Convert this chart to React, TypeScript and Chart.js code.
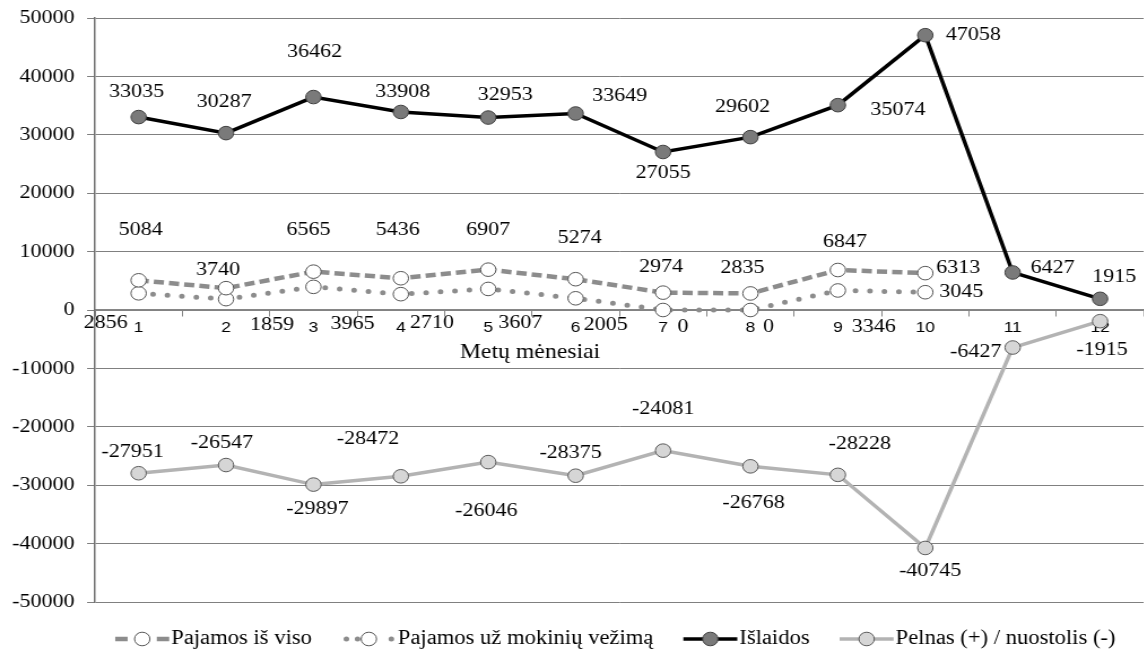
import React, { useEffect, useRef } from "react";
import { Chart, registerables } from "chart.js";

Chart.register(...registerables);

// ---------- data ----------
const months = ["1", "2", "3", "4", "5", "6", "7", "8", "9", "10", "11", "12"];
const totalIncome = [5084, 3740, 6565, 5436, 6907, 5274, 2974, 2835, 6847, 6313, null, null];
const transportIncome = [2856, 1859, 3965, 2710, 3607, 2005, 0, 0, 3346, 3045, null, null];
const expenses = [33035, 30287, 36462, 33908, 32953, 33649, 27055, 29602, 35074, 47058, 6427, 1915];
const profit = [-27951, -26547, -29897, -28472, -26046, -28375, -24081, -26768, -28228, -40745, -6427, -1915];
const yTicks = [-50000, -40000, -30000, -20000, -10000, 0, 10000, 20000, 30000, 40000, 50000];
const seriesNames = [
  "Pajamos iš viso",
  "Pajamos už mokinių vežimą",
  "Išlaidos",
  "Pelnas (+) / nuostolis (-)",
];
const xTitle = "Metų mėnesiai";

// ---------- layout / style ----------
const S = 1.13; // horizontal stretch of the whole picture
const W = 1020;
const H = 658;
const SERIF = "'Liberation Serif', 'Times New Roman', serif";
const SANS = "'Liberation Sans', Arial, sans-serif";
const LABEL_FONT = `19.5px ${SERIF}`;
const TITLE_FONT = `21px ${SERIF}`;
const LEGEND_FONT = `20px ${SERIF}`;

// label offsets (screen px) relative to each point, per dataset
const LABEL_OFFSETS: number[][][] = [
  [[2, -50], [-8, -18], [-5, -42], [-3, -48], [0, -40], [4, -41], [-2, -26], [-8, -26], [7, -28], [33, -5], [0, 0], [0, 0]],
  [[-33, 30], [46, 26], [39, 37], [31, 29], [32, 34], [30, 27], [20, 17], [18, 17], [36, 36], [36, 0], [0, 0], [0, 0]],
  [[-2, -25], [-2, -31], [1, -45], [2, -20], [17, -23], [44, -18], [0, 21], [-8, -30], [60, 5], [48, 0], [40, -5], [14, -22]],
  [[-6, -21], [-4, -22], [4, 24], [-33, -37], [-2, 49], [-5, -23], [0, -42], [3, 37], [22, -31], [5, 23], [-37, 4], [2, 29]],
];

const styles = [
  { line: "#8c8c8c", width: 4.5, dash: [9, 4.5], cap: "butt", fill: "#ffffff", border: "#555555" },
  { line: "#8c8c8c", width: 5, dash: [0, 12.8], cap: "round", fill: "#ffffff", border: "#555555" },
  { line: "#000000", width: 3.5, dash: [] as number[], cap: "butt", fill: "#7a7a7a", border: "#404040" },
  { line: "#b3b3b3", width: 3.5, dash: [] as number[], cap: "butt", fill: "#d6d6d6", border: "#5a5a5a" },
];
const POINT_R = 6.8;

const seriesData = [totalIncome, transportIncome, expenses, profit];

function drawLegendSymbol(ctx: CanvasRenderingContext2D, idx: number, x0: number, w: number, y: number) {
  const st = styles[idx];
  ctx.save();
  ctx.strokeStyle = st.line;
  ctx.fillStyle = st.line;
  ctx.lineWidth = st.width;
  if (idx === 0) {
    ctx.beginPath();
    ctx.moveTo(x0, y);
    ctx.lineTo(x0 + 11, y);
    ctx.moveTo(x0 + w - 11, y);
    ctx.lineTo(x0 + w, y);
    ctx.stroke();
  } else if (idx === 1) {
    [x0 + 4, x0 + w / 2 - 10, x0 + w - 4].forEach((cx) => {
      ctx.beginPath();
      ctx.arc(cx, y, st.width / 2, 0, Math.PI * 2);
      ctx.fill();
    });
  } else {
    ctx.beginPath();
    ctx.moveTo(x0, y);
    ctx.lineTo(x0 + w, y);
    ctx.stroke();
  }
  ctx.beginPath();
  ctx.arc(x0 + w / 2, y, POINT_R, 0, Math.PI * 2);
  ctx.fillStyle = st.fill;
  ctx.fill();
  ctx.lineWidth = 1;
  ctx.strokeStyle = st.border;
  ctx.stroke();
  ctx.restore();
}

const textPlugin = {
  id: "customText",
  afterDatasetsDraw(chart: any) {
    const ctx: CanvasRenderingContext2D = chart.ctx;
    ctx.save();
    ctx.font = LABEL_FONT;
    ctx.fillStyle = "#000";
    ctx.textAlign = "center";
    ctx.textBaseline = "middle";
    chart.data.datasets.forEach((ds: any, di: number) => {
      const meta = chart.getDatasetMeta(di);
      meta.data.forEach((pt: any, i: number) => {
        const v = ds.data[i];
        if (v === null || v === undefined) return;
        const [dx, dy] = LABEL_OFFSETS[di][i];
        ctx.fillText(String(v), pt.x + dx / S, pt.y + dy);
      });
    });
    // axis title
    ctx.font = TITLE_FONT;
    ctx.fillText(xTitle, 530 / S, 352);

    // legend
    ctx.font = LEGEND_FONT;
    const symW = 54 / S;
    const gapSym = 2 / S;
    const gapItem = 30 / S;
    const widths = seriesNames.map((n) => symW + gapSym + ctx.measureText(n).width);
    const total = widths.reduce((a, b) => a + b, 0) + gapItem * (seriesNames.length - 1);
    const ca = chart.chartArea;
    let x = (ca.left + ca.right) / 2 - total / 2 - 4 / S;
    const ly = 639;
    ctx.textAlign = "left";
    seriesNames.forEach((n, i) => {
      drawLegendSymbol(ctx, i, x, symW, ly);
      ctx.fillStyle = "#000";
      ctx.fillText(n, x + symW + gapSym, ly);
      x += widths[i] + gapItem;
    });
    ctx.restore();
  },
};

export default function App() {
  const ref = useRef<HTMLCanvasElement>(null);

  useEffect(() => {
    if (!ref.current) return;
    const datasets = seriesData.map((d, i) => ({
      label: seriesNames[i],
      data: d,
      borderColor: styles[i].line,
      borderWidth: styles[i].width,
      borderDash: styles[i].dash,
      borderCapStyle: styles[i].cap as any,
      pointRadius: POINT_R,
      pointHoverRadius: POINT_R,
      pointBackgroundColor: styles[i].fill,
      pointBorderColor: styles[i].border,
      pointBorderWidth: 1,
      tension: 0,
      fill: false,
      spanGaps: false,
    }));

    const chart = new Chart(ref.current, {
      type: "line",
      data: { labels: months, datasets },
      options: {
        responsive: false,
        animation: false,
        devicePixelRatio: 1,
        layout: { padding: { top: 18, right: 0, bottom: 56, left: 0 } },
        plugins: {
          legend: { display: false },
          tooltip: { enabled: false },
          title: { display: false },
        },
        scales: {
          x: {
            type: "category",
            offset: true,
            position: { y: 0 } as any,
            grid: {
              drawOnChartArea: false,
              drawTicks: true,
              tickLength: 6,
              color: "#868686",
              offset: true,
            },
            border: { display: true, color: "#868686", width: 1.5 },
            ticks: {
              font: { family: SANS, size: 15.5 },
              color: "#000",
              padding: 2,
              maxRotation: 0,
              autoSkip: false,
            },
          },
          y: {
            min: -50000,
            max: 50000,
            afterBuildTicks: (s: any) => {
              s.ticks = yTicks.map((v) => ({ value: v }));
            },
            afterFit: (s: any) => {
              s.width = 84;
              s.paddingTop = 0;
              s.paddingBottom = 0;
            },
            ticks: {
              font: { family: SERIF, size: 19.5 },
              color: "#000",
              padding: 11,
              callback: (v: any) => String(v),
            },
            grid: { color: "#808080", lineWidth: 1, tickLength: 7, drawTicks: true },
            border: { display: true, color: "#6e6e6e", width: 1.5 },
          },
        },
      },
      plugins: [textPlugin],
    });
    return () => chart.destroy();
  }, []);

  return (
    <div
      style={{
        position: "fixed",
        left: 0,
        top: 0,
        width: 1144,
        height: 658,
        overflow: "hidden",
        background: "#fff",
      }}
    >
      <div style={{ width: W, height: H, transform: `scaleX(${S})`, transformOrigin: "0 0" }}>
        <canvas ref={ref} width={W} height={H} style={{ display: "block" }} />
      </div>
    </div>
  );
}
